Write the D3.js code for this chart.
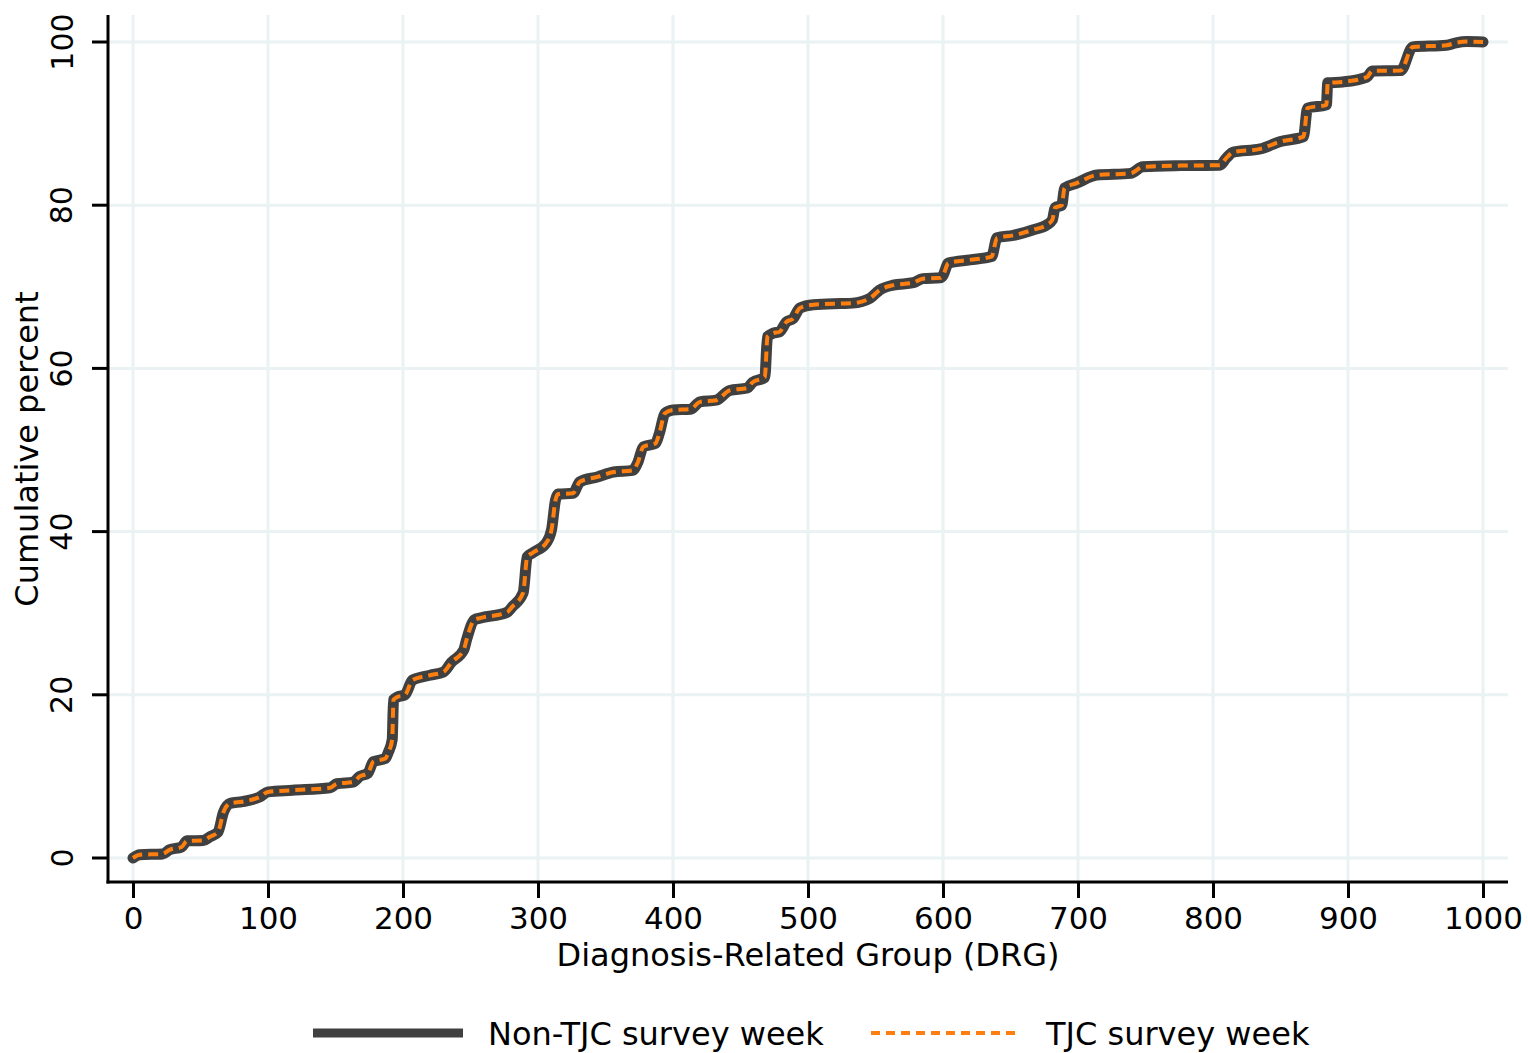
<!DOCTYPE html>
<html>
<head>
<meta charset="utf-8">
<script src="https://cdn.jsdelivr.net/npm/d3@7"></script>
<style>
  body { margin: 0; background: #fff; }
  svg text { font-family: "DejaVu Sans", sans-serif; fill: #000; }
</style>
</head>
<body>
<script>
let w = 1528;
let h = 1053;

// DRG (x) and cumulative percent (y)
var drg = [0, 5, 22, 27, 36, 40, 52, 57, 63, 67, 72, 81, 94, 100, 118, 146, 151, 163, 168, 174,
    178, 187, 189, 192, 193, 195.5, 201.5, 207, 220, 230, 236, 245, 247, 253, 257, 277, 281, 289,
    292, 296, 306, 310, 313, 315, 326, 331, 344, 356, 370, 374, 378, 387, 390, 394, 400, 413, 420,
    432, 442, 455, 459, 468, 470, 474, 479, 484, 489, 494, 504, 524, 533, 546, 553, 563, 578, 585,
    598, 600, 604, 620, 636, 640, 652, 667, 677, 681, 683, 688, 690, 699, 714, 739, 748, 776, 805,
    810, 815, 835, 850, 867, 870, 884, 885, 896, 914, 918, 939, 948, 973, 980, 988, 1000];
var nonTjcPct = [0, 0.4, 0.5, 1.0, 1.35, 2.1, 2.15, 2.6, 3.2, 5.6, 6.7, 6.9, 7.5, 8.1, 8.3, 8.6, 9.1, 9.3, 10.0, 10.4,
    11.8, 12.2, 12.9, 14.5, 19.4, 19.7, 20.0, 21.8, 22.4, 22.8, 24.0, 25.5, 26.7, 29.2, 29.4, 30.1, 30.8, 32.5,
    36.9, 37.4, 38.6, 40.2, 43.9, 44.6, 44.7, 46.1, 46.7, 47.3, 47.5, 48.5, 50.4, 50.8, 52.1, 54.5, 54.9, 55.0, 55.9,
    56.1, 57.3, 57.6, 58.3, 58.9, 63.9, 64.3, 64.5, 65.7, 66.1, 67.4, 67.8, 67.95, 68.0, 68.6, 69.6, 70.2, 70.5, 71.0,
    71.1, 71.4, 72.9, 73.3, 73.7, 76.0, 76.3, 77.0, 77.6, 78.2, 79.7, 80.0, 82.1, 82.7, 83.7, 83.9, 84.7, 84.85, 84.9,
    85.8, 86.5, 86.9, 87.8, 88.4, 91.9, 92.3, 95.0, 95.1, 95.7, 96.45, 96.5, 99.4, 99.6, 99.9, 100.05, 100];
// the two series lie on top of each other
var tjcPct = nonTjcPct.slice();

var xTicks = [0, 100, 200, 300, 400, 500, 600, 700, 800, 900, 1000];
var yTicks = [0, 20, 40, 60, 80, 100];
var seriesNames = ["Non-TJC survey week", "TJC survey week"];

var frame = {left: 108, right: 1508, top: 15, bottom: 882};

var x = d3.scaleLinear().domain([0, 1000]).range([133, 1483]);
var y = d3.scaleLinear().domain([0, 100]).range([858, 42]);

var svg = d3.select("body").append("svg")
    .attr("width", w)
    .attr("height", h);

// grid
svg.selectAll("line.vgrid").data(xTicks).enter().append("line")
    .attr("x1", d => x(d)).attr("x2", d => x(d))
    .attr("y1", frame.top).attr("y2", frame.bottom)
    .attr("stroke", "#eaf2f3").attr("stroke-width", 3);
svg.selectAll("line.hgrid").data(yTicks).enter().append("line")
    .attr("x1", frame.left).attr("x2", frame.right)
    .attr("y1", d => y(d)).attr("y2", d => y(d))
    .attr("stroke", "#eaf2f3").attr("stroke-width", 3);

// x axis
var xAxis = svg.append("g")
    .attr("transform", `translate(0,${frame.bottom})`)
    .call(d3.axisBottom(x).tickValues(xTicks).tickFormat(d3.format("d")).tickSize(16).tickPadding(8));
xAxis.select(".domain").remove();
xAxis.selectAll(".tick line").attr("stroke", "#000").attr("stroke-width", 3);
xAxis.selectAll(".tick text")
    .attr("font-size", 31).attr("font-family", "DejaVu Sans").attr("fill", "#000")
    .attr("dy", "0.75em");

// y axis: ticks with rotated labels
var yAxis = svg.append("g");
yAxis.selectAll("line").data(yTicks).enter().append("line")
    .attr("x1", frame.left - 16).attr("x2", frame.left)
    .attr("y1", d => y(d)).attr("y2", d => y(d))
    .attr("stroke", "#000").attr("stroke-width", 3);
yAxis.selectAll("text").data(yTicks).enter().append("text")
    .attr("x", frame.left - 46).attr("y", d => y(d))
    .attr("dy", "0.35em")
    .attr("text-anchor", "middle")
    .attr("font-size", 30)
    .attr("transform", d => `rotate(-90,${frame.left - 46},${y(d)})`)
    .text(d => d);

svg.append("line")
    .attr("x1", frame.left).attr("x2", frame.left)
    .attr("y1", frame.top).attr("y2", frame.bottom + 1.5)
    .attr("stroke", "#000").attr("stroke-width", 3);
svg.append("line")
    .attr("x1", frame.left - 1.5).attr("x2", frame.right)
    .attr("y1", frame.bottom).attr("y2", frame.bottom)
    .attr("stroke", "#000").attr("stroke-width", 3);

// titles
svg.append("text")
    .attr("x", 808).attr("y", 966)
    .attr("text-anchor", "middle").attr("font-size", 32)
    .text("Diagnosis-Related Group (DRG)");
svg.append("text")
    .attr("transform", `translate(38,449) rotate(-90)`)
    .attr("text-anchor", "middle").attr("font-size", 32)
    .text("Cumulative percent");

// lines
var line = d3.line()
    .x((d, i) => x(drg[i]))
    .y(d => y(d))
    .curve(d3.curveMonotoneX);

svg.append("path")
    .attr("d", line(nonTjcPct))
    .attr("fill", "none")
    .attr("stroke", "#404040")
    .attr("stroke-width", 11)
    .attr("stroke-linejoin", "round")
    .attr("stroke-linecap", "round");
svg.append("path")
    .attr("d", line(tjcPct))
    .attr("fill", "none")
    .attr("stroke", "#ff7f0e")
    .attr("stroke-width", 4)
    .attr("stroke-dasharray", "10,6");

// legend
var legend = svg.append("g");
legend.append("line")
    .attr("x1", 313).attr("x2", 463).attr("y1", 1033).attr("y2", 1033)
    .attr("stroke", "#404040").attr("stroke-width", 9);
legend.append("text")
    .attr("x", 488).attr("y", 1045).attr("font-size", 32)
    .text(seriesNames[0]);
legend.append("line")
    .attr("x1", 871).attr("x2", 1020).attr("y1", 1033).attr("y2", 1033)
    .attr("stroke", "#ff7f0e").attr("stroke-width", 4)
    .attr("stroke-dasharray", "9,6");
legend.append("text")
    .attr("x", 1046).attr("y", 1045).attr("font-size", 32)
    .text(seriesNames[1]);
</script>
</body>
</html>
